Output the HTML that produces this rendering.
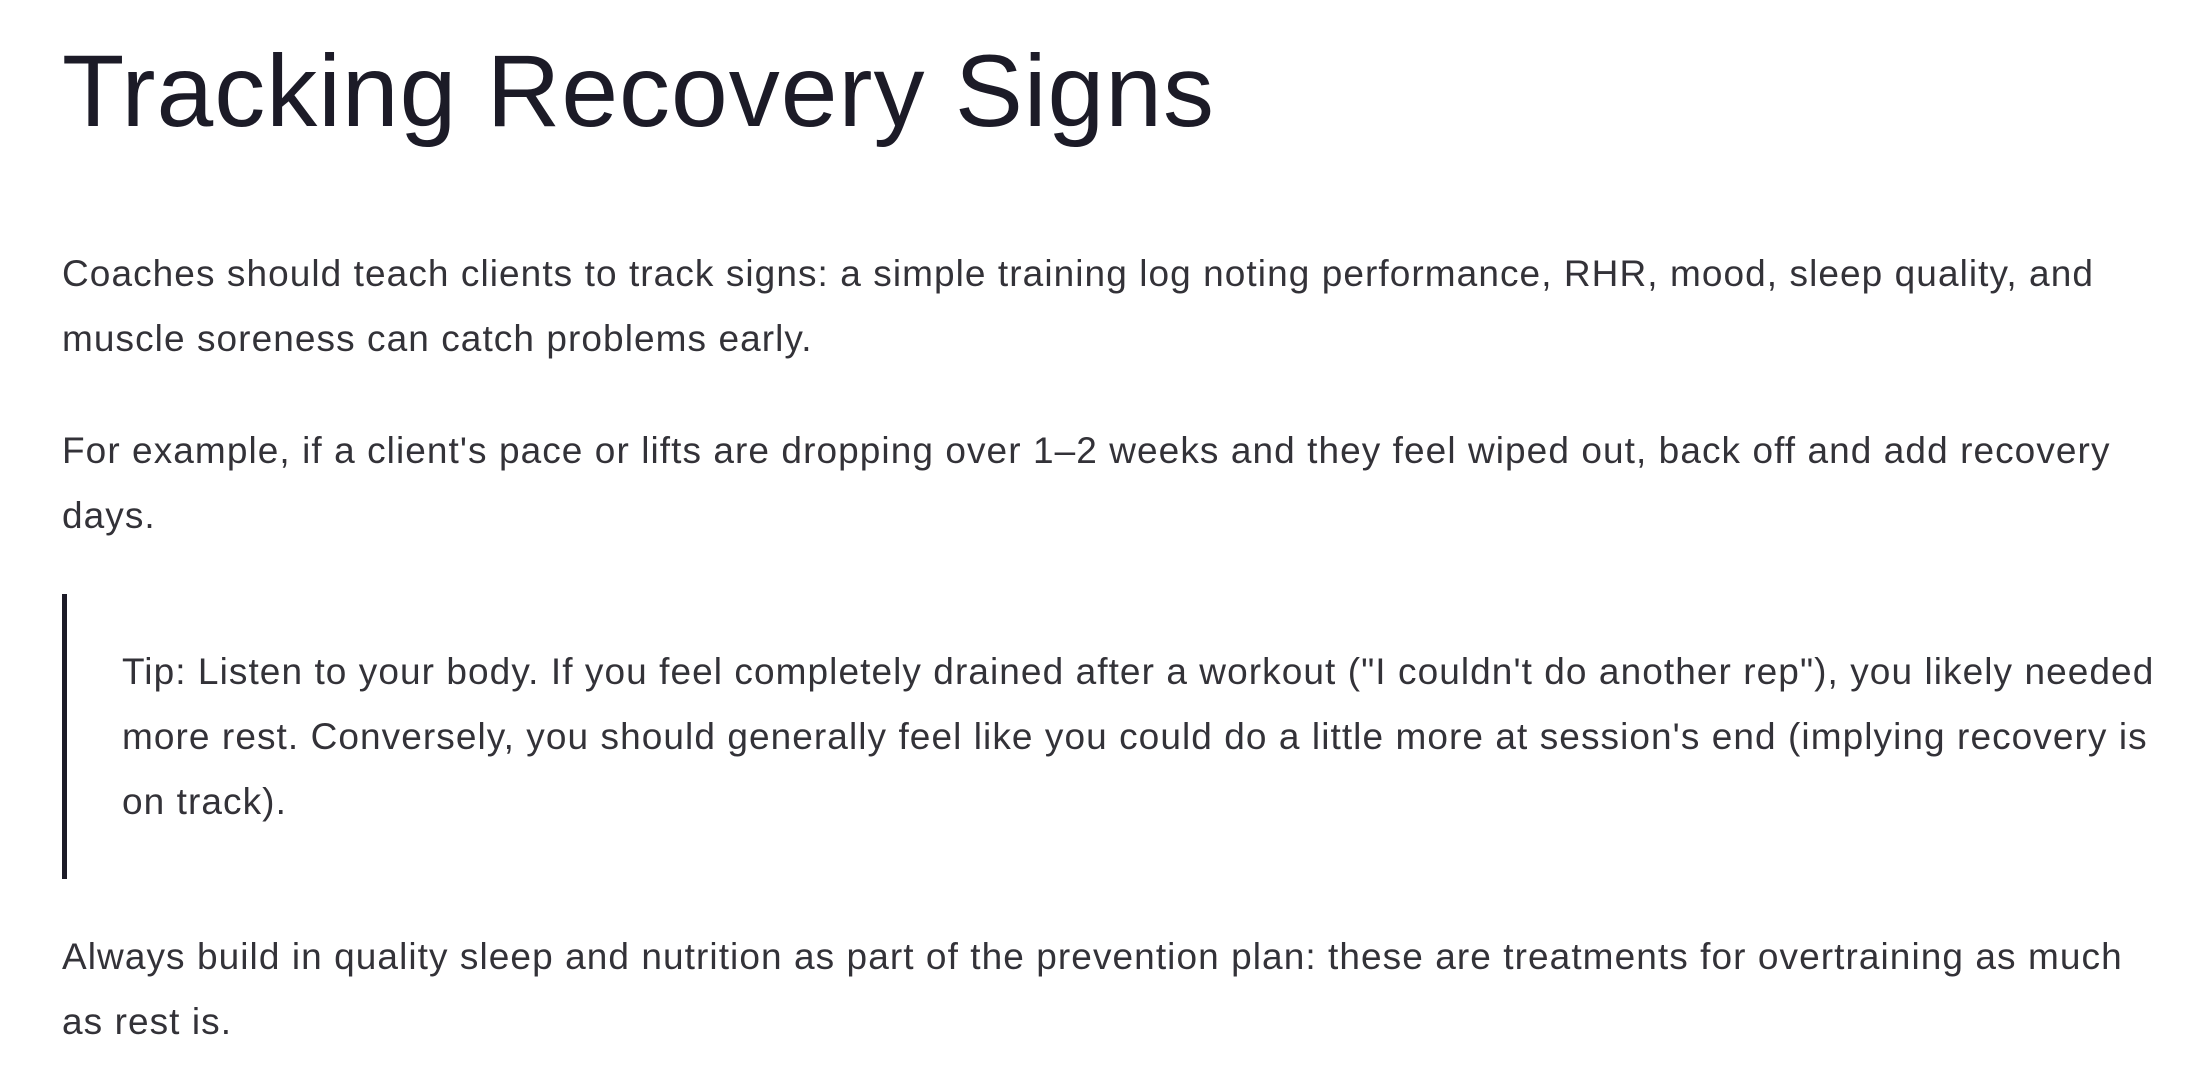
<!DOCTYPE html>
<html><head><meta charset="utf-8"><style>
html,body{margin:0;padding:0;background:#fff;width:2191px;height:1069px;overflow:hidden;position:relative}
.t{position:absolute;left:62px;top:40px;font:102px/1 "Liberation Sans",sans-serif;color:#1c1b27;white-space:nowrap;letter-spacing:1px}
.p{position:absolute;left:62px;width:2120px;font:37px/65px "Liberation Sans",sans-serif;color:#333238;white-space:nowrap;letter-spacing:1.07px}
.bar{position:absolute;left:62px;top:594px;width:5px;height:285px;background:#1c1b27}
</style></head><body>
<div class="t">Tracking Recovery Signs</div>
<div class="p" style="top:241px">Coaches should teach clients to track signs: a simple training log noting performance, RHR, mood, sleep quality, and<br>muscle soreness can catch problems early.</div>
<div class="p" style="top:418px">For example, if a client's pace or lifts are dropping over 1–2 weeks and they feel wiped out, back off and add recovery<br>days.</div>
<div class="bar"></div>
<div class="p" style="top:639px;left:122px">Tip: Listen to your body. If you feel completely drained after a workout ("I couldn't do another rep"), you likely needed<br>more rest. Conversely, you should generally feel like you could do a little more at session's end (implying recovery is<br>on track).</div>
<div class="p" style="top:924px">Always build in quality sleep and nutrition as part of the prevention plan: these are treatments for overtraining as much<br>as rest is.</div>
</body></html>
